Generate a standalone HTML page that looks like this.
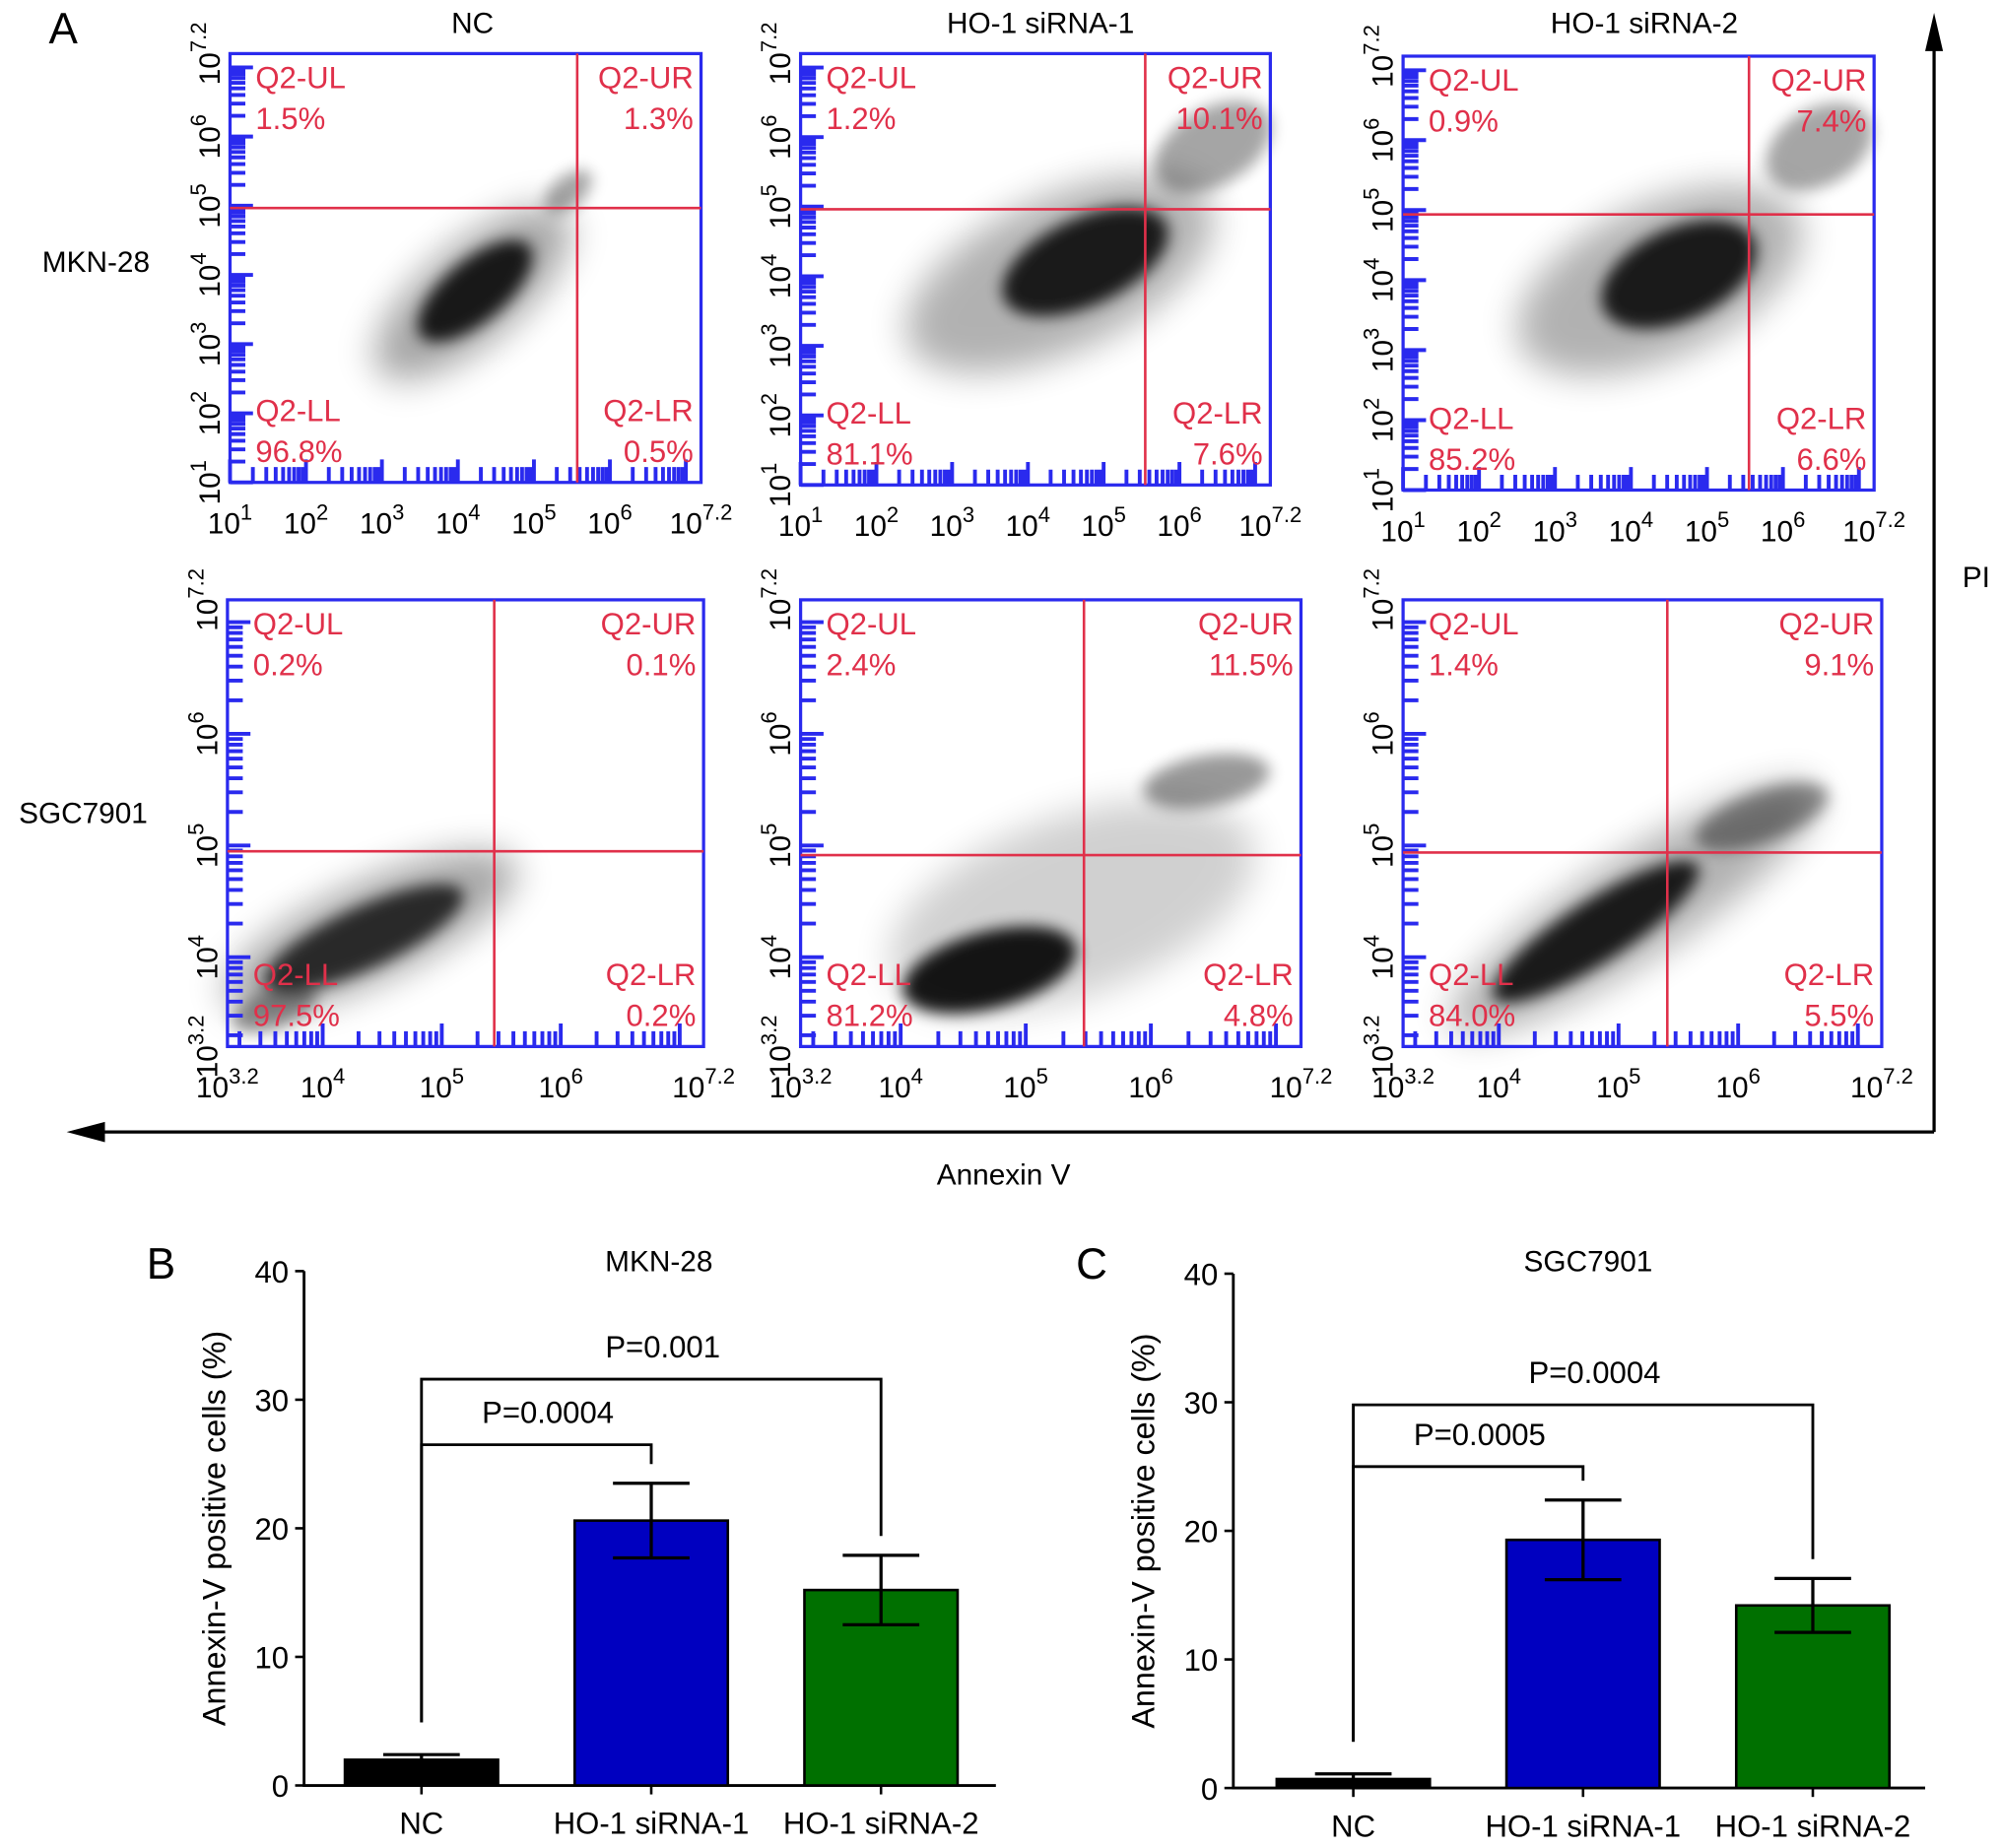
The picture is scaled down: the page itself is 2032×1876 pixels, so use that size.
<!DOCTYPE html>
<html><head><meta charset="utf-8">
<style>
html,body{margin:0;padding:0;background:#fff;}
svg{display:block;font-family:"Liberation Sans",Arial,sans-serif;}
</style></head>
<body>
<svg id="fig" width="2032" height="1876" viewBox="0 0 1568 1448" xmlns="http://www.w3.org/2000/svg">
<defs>
<filter id="blur4" x="-50%" y="-50%" width="200%" height="200%"><feGaussianBlur stdDeviation="6"/></filter>
<filter id="blur10" x="-50%" y="-50%" width="200%" height="200%"><feGaussianBlur stdDeviation="14"/></filter>
</defs>
<g id="panelA"></g>
<g id="panelB"></g>
<g id="panelC"></g>
</svg>
<script>
// ---- Panel A quadrant percentages (data) ----
var flowGroups = ["NC","HO-1 siRNA-1","HO-1 siRNA-2"];
var flowLines = ["MKN-28","SGC7901"];
var pctUL = [[1.5,1.2,0.9],[0.2,2.4,1.4]];
var pctUR = [[1.3,10.1,7.4],[0.1,11.5,9.1]];
var pctLL = [[96.8,81.1,85.2],[97.5,81.2,84.0]];
var pctLR = [[0.5,7.6,6.6],[0.2,4.8,5.5]];

// ---- Panel B/C bar data ----
var barCategories = ["NC","HO-1 siRNA-1","HO-1 siRNA-2"];
var mknValues = [2.0,20.6,15.2];
var mknErrors = [0.4,2.9,2.7];
var sgcValues = [0.7,19.3,14.2];
var sgcErrors = [0.4,3.1,2.1];
var yTicks = [0,10,20,30,40];
var mknPLabels = ["P=0.0004","P=0.001"];
var mknPHeights = [26.5,31.6];
var sgcPLabels = ["P=0.0005","P=0.0004"];
var sgcPHeights = [25.0,29.8];

var NS="http://www.w3.org/2000/svg";
function mk(parent,tag,attrs,text){var e=document.createElementNS(NS,tag);for(var k in attrs)e.setAttribute(k,attrs[k]);if(text!==undefined)e.textContent=text;parent.appendChild(e);return e;}

// ===== Panel A =====
var A=document.getElementById('panelA');
var t=mk(A,'text',{x:38,y:34,'font-size':34},'A');



var boxes=[
 [[180,42,549,378,452,163],[627,42,995,380,897,164],[1099,44,1468,384,1370,168]],
 [[178,470,551,820,387,667],[627,470,1019,820,849,670],[1099,470,1474,820,1306,668]]
];
var clouds=[
 [[[370,230,95,38,-40,0.35],[372,228,55,24,-40,0.85],[445,150,22,12,-40,0.35]],
  [[830,215,130,60,-25,0.3],[850,205,70,34,-25,0.85],[950,115,50,30,-30,0.35]],
  [[1300,220,120,60,-25,0.3],[1315,215,65,36,-25,0.85],[1425,115,45,30,-30,0.35]]],
 [[[290,730,125,38,-25,0.35],[285,735,85,24,-25,0.75],[215,790,35,15,-20,0.4]],
  [[840,710,150,70,-20,0.18],[775,760,70,30,-15,0.9],[945,612,50,20,-10,0.4]],
  [[1280,712,170,40,-33,0.3],[1250,730,95,24,-33,0.85],[1380,640,55,20,-20,0.4]]]
];
var titlePos=[370,815,1288];
var rowLabels=[[75,213],[65,645]];
var xMin=[1,3.2];
for(var r=0;r<2;r++){
 var lab=mk(A,'text',{x:rowLabels[r][0],y:rowLabels[r][1],'font-size':23,'text-anchor':'middle'},flowLines[r]);
 
 
 for(var c=0;c<3;c++){
  var b=boxes[r][c],x0=b[0],y0=b[1],x1=b[2],y1=b[3];
  var g=mk(A,'g',{});
  
  
  if(r===0){var tt=mk(A,'text',{x:titlePos[c],y:26,'font-size':23,'text-anchor':'middle'},flowGroups[c]);
   
   }
  var cl=clouds[r][c];
  for(var i=0;i<cl.length;i++){var q=cl[i];
   var e=mk(g,'ellipse',{cx:q[0],cy:q[1],rx:q[2],ry:q[3],fill:'#000',opacity:q[5],transform:'rotate('+q[4]+' '+q[0]+' '+q[1]+')',filter:i===0?'url(#blur10)':'url(#blur4)'});
   
   }
  var lo=xMin[r],hi=7.2;
  var strip='';
  for(var d=Math.floor(lo);d<8;d++)for(var m=1;m<10;m++){var v=d+Math.log10(m);if(v<lo||v>hi)continue;
   var fy=y1-(v-lo)/(hi-lo)*(y1-y0),fx=x0+(v-lo)/(hi-lo)*(x1-x0);
   var len=m===1?18:12;
   strip+='M'+x0+' '+fy.toFixed(1)+'h'+len+' M'+fx.toFixed(1)+' '+y1+'v-'+len+' ';}
  var sp=mk(g,'path',{d:strip,stroke:'#2a2aee','stroke-width':3,fill:'none'});
  
  
  var rc=mk(g,'rect',{x:x0,y:y0,width:x1-x0,height:y1-y0,fill:'none',stroke:'#2a2aee','stroke-width':2.5});
  
  
  var gl=mk(g,'path',{d:'M'+b[4]+' '+y0+'V'+y1+'M'+x0+' '+b[5]+'H'+x1,stroke:'#e0304a','stroke-width':2,fill:'none'});
  
  
  var red='#e0304a',fs=24;
  var qs=[['Q2-UL',pctUL[r][c],x0+20,y0+27,'start'],['Q2-UR',pctUR[r][c],x1-6,y0+27,'end'],['Q2-LL',pctLL[r][c],x0+20,y1-48,'start'],['Q2-LR',pctLR[r][c],x1-6,y1-48,'end']];
  for(var k=0;k<4;k++){
   var q1=mk(g,'text',{x:qs[k][2],y:qs[k][3],'font-size':fs,fill:red,'text-anchor':qs[k][4]},qs[k][0]);
   
   
   var q2=mk(g,'text',{x:qs[k][2],y:qs[k][3]+32,'font-size':fs,fill:red,'text-anchor':qs[k][4]},qs[k][1].toFixed(1)+'%');
   
   
  }
  var decs=[];
  if(lo%1!==0)decs.push(lo);
  for(var d2=Math.ceil(lo);d2<=6;d2++)decs.push(d2);
  decs.push(7.2);
  for(var j=0;j<decs.length;j++){var v2=decs[j];
   var ex=(v2%1===0)?String(v2):v2.toFixed(1);
   var px=x0+(v2-lo)/(hi-lo)*(x1-x0),py=y1-(v2-lo)/(hi-lo)*(y1-y0);
   var xt=mk(g,'text',{x:px,y:y1+40,'font-size':23,'text-anchor':'middle'});
   
   
   mk(xt,'tspan',{},'10');mk(xt,'tspan',{dy:-11,'font-size':17},ex);
   var yt=mk(g,'text',{x:0,y:0,'font-size':23,'text-anchor':'middle',transform:'translate('+(x0-8)+' '+py+') rotate(-90)'});
   
   
   mk(yt,'tspan',{},'10');mk(yt,'tspan',{dy:-11,'font-size':17},ex);
  }
 }
}
var ax=mk(A,'path',{d:'M1515 887H62 M1515 887V22',stroke:'#000','stroke-width':2.5,fill:'none'});


var ah=mk(A,'path',{d:'M52 887l30-8v16z M1515 10l-7 30h14z',fill:'#000'});


var pi=mk(A,'text',{x:1548,y:460,'font-size':23,'text-anchor':'middle'},'PI');


var an=mk(A,'text',{x:786,y:928,'font-size':23,'text-anchor':'middle'},'Annexin V');



// ===== Bar charts =====
function barChart(G,letter,lx,title,axX,y0,yTop,barX,values,errors,pLabels,pHeights){
 var ys=function(v){return y0-(v/40)*(y0-yTop);};
 var L=mk(G,'text',{x:lx,y:1002,'font-size':34,'text-anchor':'middle'},letter);
 
 
 var T=mk(G,'text',{x:axX+278,y:996,'font-size':23,'text-anchor':'middle'},title);
 
 
 var axis=mk(G,'path',{d:'M'+axX+' '+yTop+'V'+y0+'H'+(axX+542),stroke:'#000','stroke-width':2.2,fill:'none'});
 
 
 for(var i=0;i<yTicks.length;i++){var yy=ys(yTicks[i]);
  var tk=mk(G,'path',{d:'M'+(axX-7)+' '+yy+'H'+axX,stroke:'#000','stroke-width':2});
  
  
  var tl=mk(G,'text',{x:axX-12,y:yy+9,'font-size':24,'text-anchor':'end'},String(yTicks[i]));
  
  }
 var yl=mk(G,'text',{x:0,y:0,'font-size':25,'text-anchor':'middle',transform:'translate('+(axX-62)+' '+ys(20)+') rotate(-90)'},'Annexin-V positive cells (%)');
 
 
 var colors=['#000000','#0000c0','#007000'];
 var centers=[];
 for(var i=0;i<values.length;i++){
  var bx=barX+i*180,cx=bx+60;centers.push(cx);
  var r=mk(G,'rect',{x:bx,y:ys(values[i]),width:120,height:y0-ys(values[i]),fill:colors[i],stroke:'#000','stroke-width':2});
  
  
  var eb=mk(G,'path',{d:'M'+cx+' '+ys(values[i]-errors[i])+'V'+ys(values[i]+errors[i])+'M'+(cx-30)+' '+ys(values[i]+errors[i])+'h60M'+(cx-30)+' '+ys(values[i]-errors[i])+'h60',stroke:'#000','stroke-width':2.5,fill:'none'});
  
  
  var xt=mk(G,'path',{d:'M'+cx+' '+y0+'v7',stroke:'#000','stroke-width':2});
  
  
  var xl=mk(G,'text',{x:cx,y:y0+38,'font-size':24,'text-anchor':'middle'},barCategories[i]);
  
  
 }
 for(var p=0;p<pLabels.length;p++){
  var hy=ys(pHeights[p]),tgt=p+1;
  var endY=ys(values[tgt]+errors[tgt]+1.5);
  var br=mk(G,'path',{d:'M'+centers[0]+' '+ys(values[0]+errors[0]+2.5)+'V'+hy+'H'+centers[tgt]+'V'+endY,stroke:'#000','stroke-width':2.2,fill:'none'});
  
  
  var pl=mk(G,'text',{x:(centers[0]+centers[tgt])/2+9,y:hy-17,'font-size':24,'text-anchor':'middle'},pLabels[p]);
  
  
 }
}
barChart(document.getElementById('panelB'),'B',126,'MKN-28',238,1399,996,270,mknValues,mknErrors,mknPLabels,mknPHeights);
barChart(document.getElementById('panelC'),'C',855,'SGC7901',966,1401,998,1000,sgcValues,sgcErrors,sgcPLabels,sgcPHeights);
</script>
</body></html>
